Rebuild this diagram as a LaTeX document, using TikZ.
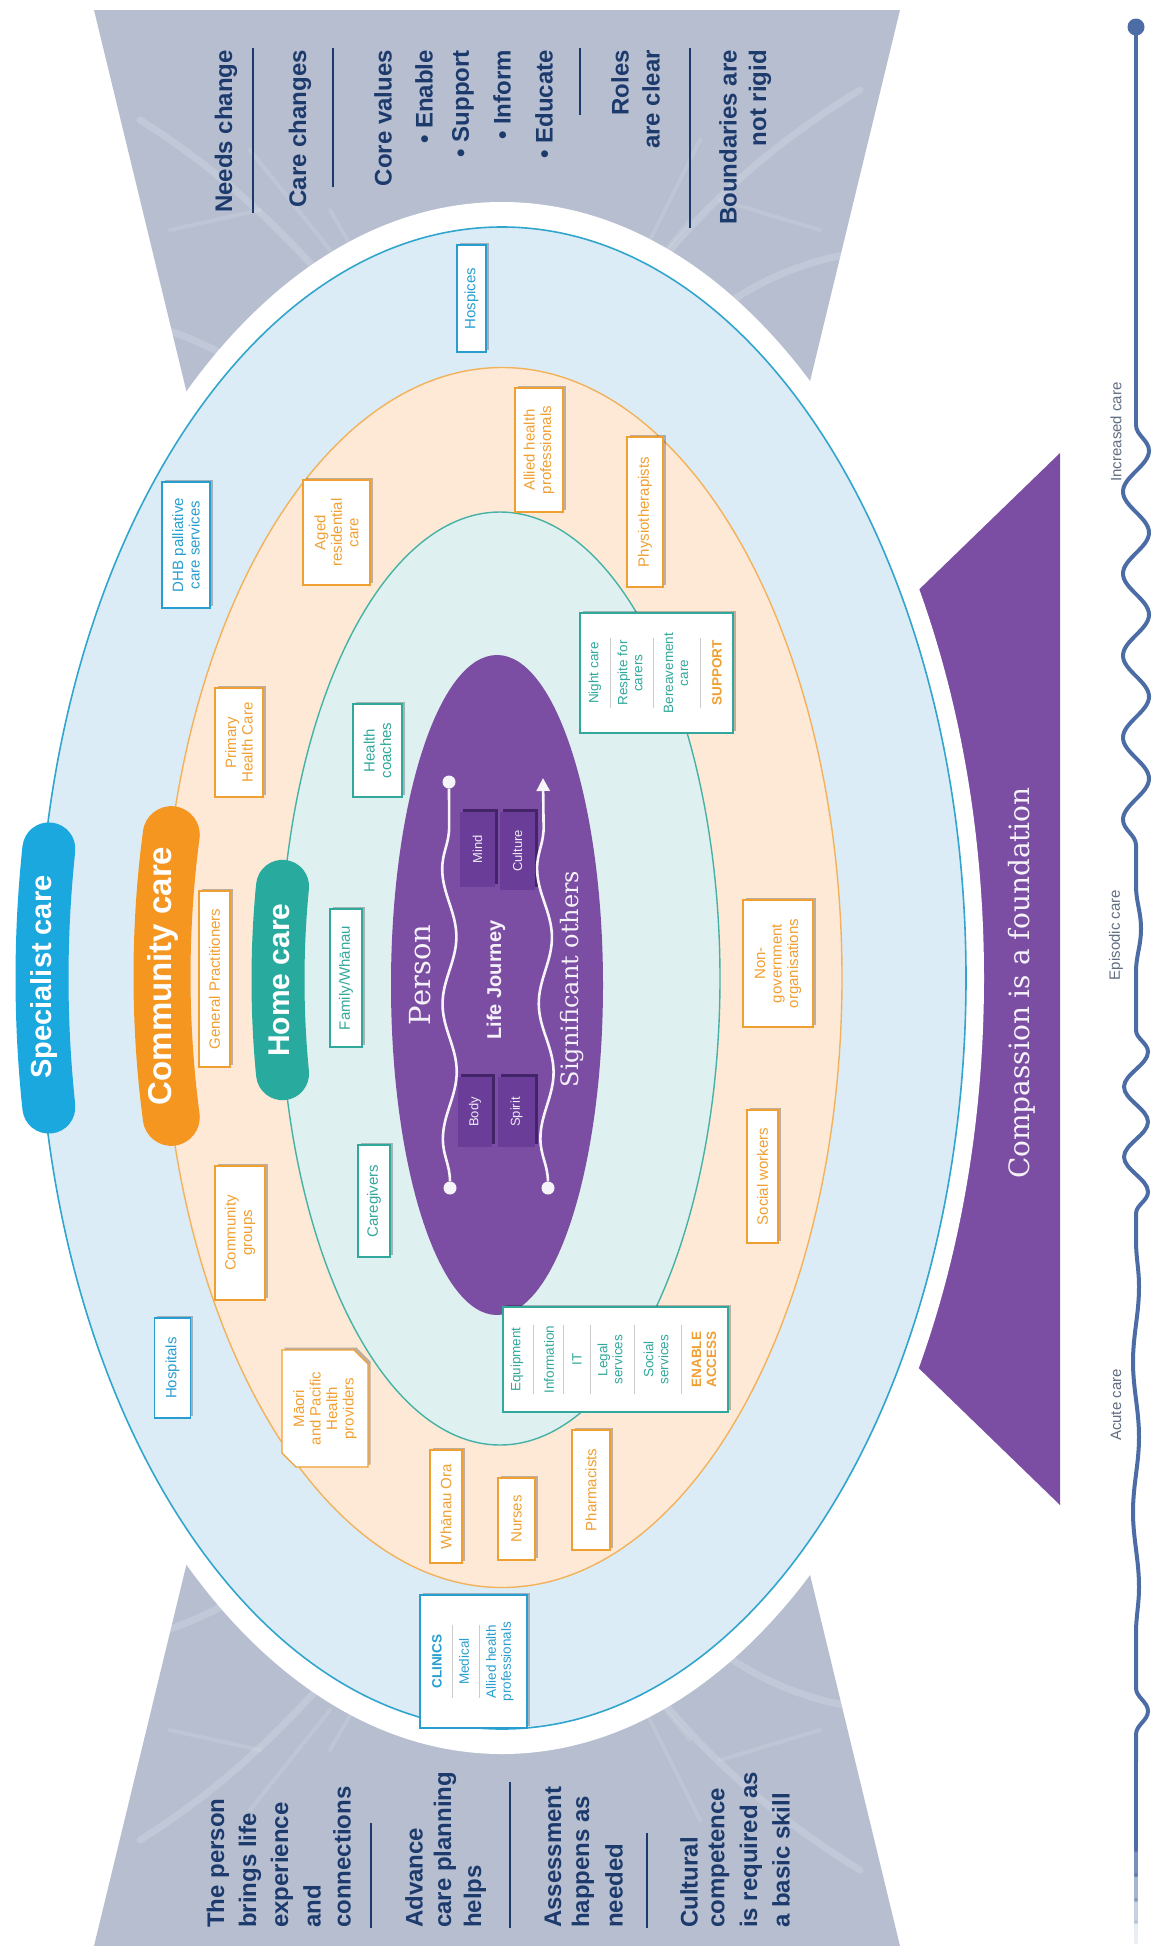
\documentclass[tikz,border=0pt]{standalone}
\usepackage{fontspec}
\setmainfont{Liberation Sans}
\newfontfamily\serifface{DejaVu Serif}
\usetikzlibrary{arrows.meta,decorations.pathmorphing}

\definecolor{panelgray}{RGB}{182,190,208}
\definecolor{navy}{RGB}{28,58,108}
\definecolor{specblue}{RGB}{27,168,222}
\definecolor{commorange}{RGB}{244,150,32}
\definecolor{hometeal}{RGB}{40,170,158}
\definecolor{outerfill}{RGB}{220,236,247}
\definecolor{outerline}{RGB}{50,165,205}
\definecolor{peachfill}{RGB}{253,233,213}
\definecolor{peachline}{RGB}{242,178,92}
\definecolor{innerfill}{RGB}{222,240,240}
\definecolor{innerline}{RGB}{70,178,166}
\definecolor{personpurple}{RGB}{123,78,163}
\definecolor{tabpurple}{RGB}{106,62,152}
\definecolor{tabshade}{RGB}{68,36,104}
\definecolor{bluetxt}{RGB}{40,158,208}
\definecolor{orangetxt}{RGB}{240,160,50}
\definecolor{tealtxt}{RGB}{50,168,156}
\definecolor{careblue}{RGB}{76,108,165}
\definecolor{caregray}{RGB}{95,110,130}

% white label box with a soft shadow on its upper-right side
% #1 name, #2 x, #3 y, #4 width, #5 height (as drawn), #6 colour, #7 text
\newcommand\ringbox[7]{%
  \fill[boxshadow] ({#2-#4/2+2.5},{#3-#5/2-2.5}) rectangle ({#2+#4/2+2.5},{#3+#5/2-2.5});
  \node[ringlabel, draw=#6, text=#6, minimum width=#5pt, minimum height=#4pt] (#1) at (#2,#3) {#7};}

% darker tab inside the person ellipse
\newcommand\purpletab[6]{%
  \fill[tabshade] ({#2-#4/2+3},{#3-#5/2-3}) rectangle ({#2+#4/2+3},{#3+#5/2-3});
  \node[tabtext, fill=tabpurple, minimum width=#5pt, minimum height=#4pt] (#1) at (#2,#3) {#6};}

\tikzset{
  ringlabel/.style={rotate=90, fill=white, line width=1.3pt,
    font=\fontsize{15}{16.5}\selectfont, align=center, inner sep=1pt},
  inlabel/.style={rotate=90, font=\fontsize{13.5}{15}\selectfont, align=center, inner sep=0pt},
  sepline/.style={draw=black!20, line width=0.9pt},
  paneltext/.style={rotate=90, text=navy, font=\fontsize{24}{30}\selectfont\bfseries, inner sep=0pt},
  panelrule/.style={draw=navy, line width=1.4pt},
  frond/.style={draw=white, opacity=0.16, line width=7pt, line cap=round},
  leaflet/.style={draw=white, opacity=0.11, line width=4pt, line cap=round},
  tabtext/.style={rotate=90, text=white!88!personpurple, font=\fontsize{13}{14}\selectfont, inner sep=0pt},
  lifeline/.style={draw=white!94!personpurple, line width=2.6pt, decorate,
    decoration={snake, amplitude=7pt, segment length=135pt}},
  lifedot/.style={circle, fill=white!94!personpurple, minimum size=13pt, inner sep=0pt},
  careline/.style={draw=careblue, line width=4pt, line cap=round},
  caretext/.style={rotate=90, text=caregray, font=\fontsize{15}{16}\selectfont, inner sep=0pt},
  boxshadow/.style={fill=black, opacity=0.25},
}

\begin{document}
\begin{tikzpicture}[x=1pt,y=-1pt]
\useasboundingbox (0,0) rectangle (1155,1946);
\fill[white] (0,0) rectangle (1155,1946);

% side panels with a faint frond texture
\fill[panelgray] (94,10) -- (900,10) -- (757,600) -- (237,600) -- cycle;
\fill[panelgray] (94,1946) -- (900,1946) -- (757,1356) -- (237,1356) -- cycle;
\begin{scope}
  \clip (94,10) -- (900,10) -- (757,600) -- (237,600) -- cycle;
  \draw[frond] (500,560) .. controls (420,380) and (300,220) .. (140,120);
  \draw[frond] (520,560) .. controls (560,360) and (680,200) .. (860,90);
  \draw[frond] (470,540) .. controls (330,420) and (220,330) .. (120,320);
  \draw[frond] (560,520) .. controls (650,330) and (760,260) .. (880,250);
  \draw[leaflet] (330,250) -- (250,150); \draw[leaflet] (400,330) -- (330,210);
  \draw[leaflet] (640,260) -- (700,140); \draw[leaflet] (600,330) -- (690,220);
  \draw[leaflet] (260,210) -- (170,230); \draw[leaflet] (720,200) -- (820,230);
\end{scope}
\begin{scope}
  \clip (94,1946) -- (900,1946) -- (757,1356) -- (237,1356) -- cycle;
  \draw[frond] (500,1400) .. controls (420,1580) and (300,1740) .. (140,1840);
  \draw[frond] (520,1400) .. controls (560,1600) and (680,1760) .. (860,1870);
  \draw[frond] (470,1420) .. controls (330,1540) and (220,1630) .. (120,1640);
  \draw[frond] (560,1440) .. controls (650,1630) and (760,1700) .. (880,1710);
  \draw[leaflet] (330,1710) -- (250,1810); \draw[leaflet] (400,1630) -- (330,1750);
  \draw[leaflet] (640,1700) -- (700,1820); \draw[leaflet] (600,1630) -- (690,1740);
  \draw[leaflet] (260,1750) -- (170,1730); \draw[leaflet] (720,1760) -- (820,1730);
\end{scope}

% foundation band
\fill[personpurple] (1060,453) -- (1060,1505) -- (900,1350) -- (900,608) -- cycle;

% nested care rings
\fill[white] (502,978) ellipse [x radius=482pt, y radius=776pt];
\filldraw[fill=outerfill, draw=outerline, line width=1.6pt] (502,978) ellipse [x radius=464pt, y radius=751pt];
\filldraw[fill=peachfill, draw=peachline, line width=1.4pt] (502,977.5) ellipse [x radius=340pt, y radius=610pt];
\filldraw[fill=innerfill, draw=innerline, line width=1.4pt] (500,978.5) ellipse [x radius=220pt, y radius=466.5pt];
\fill[personpurple] (497,985) ellipse [x radius=106pt, y radius=330pt];

% ring titles on curved bands
\draw[line width=53pt, line cap=round, draw=specblue]
  plot[domain=-9.9:9.9, samples=25, smooth] ({502-460*cos(\x)}, {978+751*sin(\x)});
\draw[line width=57pt, line cap=round, draw=commorange]
  plot[domain=-13.4:13.4, samples=25, smooth] ({502-340*cos(\x)}, {976+610*sin(\x)});
\draw[line width=53pt, line cap=round, draw=hometeal]
  plot[domain=-11.6:11.6, samples=25, smooth] ({500-222*cos(\x)}, {980+466*sin(\x)});
\node[rotate=90, text=white, inner sep=0pt, font=\fontsize{29}{30}\selectfont\bfseries] (specialist) at (44,977) {Specialist care};
\node[rotate=90, text=white, inner sep=0pt, font=\fontsize{33}{34}\selectfont\bfseries] (community) at (163,976) {Community care};
\node[rotate=90, text=white, inner sep=0pt, font=\fontsize{30}{31}\selectfont\bfseries] (home) at (279,980) {Home care};

% specialist ring
\ringbox{hospices}{471.5}{298.5}{29}{107}{bluetxt}{Hospices}
\ringbox{dhb}{186}{545}{48}{126}{bluetxt}{DHB palliative\\care services}
\ringbox{hospitals}{172.5}{1368}{36}{100}{bluetxt}{Hospitals}
\ringbox{clinics}{473.5}{1661.5}{107}{133}{bluetxt}{}
\node[inlabel, text=bluetxt, font=\fontsize{13.5}{15}\selectfont\bfseries] (clinicshead) at (437,1661.5) {CLINICS};
\draw[sepline] (452,1625) -- (452,1698);
\node[inlabel, text=bluetxt] (medical) at (464,1661.5) {Medical};
\draw[sepline] (479,1625) -- (479,1698);
\node[inlabel, text=bluetxt] (clinicallied) at (500,1661.5) {Allied health\\professionals};

% community ring
\ringbox{gp}{214.5}{979}{31}{176}{orangetxt}{General Practitioners}
\ringbox{phc}{239}{742.5}{48}{109}{orangetxt}{Primary\\Health Care}
\ringbox{aged}{336.5}{532.5}{67}{105}{orangetxt}{Aged\\residential\\care}
\ringbox{allied}{539}{450}{48}{124}{orangetxt}{Allied health\\professionals}
\ringbox{physio}{645}{512}{36}{150}{orangetxt}{Physiotherapists}
\ringbox{ngo}{778}{963.5}{70}{127}{orangetxt}{Non-\\government\\organisations}
\ringbox{socialwk}{762.5}{1176.5}{31}{133}{orangetxt}{Social workers}
\ringbox{pharm}{591}{1490}{38}{120}{orangetxt}{Pharmacists}
\ringbox{nurses}{516.5}{1519}{37}{82}{orangetxt}{Nurses}
\ringbox{whanauora}{446}{1506.5}{32}{113}{orangetxt}{Whānau Ora}
\ringbox{commgroups}{240}{1233}{50}{134}{orangetxt}{Community\\groups}
% Maori and Pacific providers: box with two clipped corners
\fill[boxshadow] (284.5,1347.5) -- (356.5,1347.5) -- (370.5,1361.5) -- (370.5,1464.5) -- (298.5,1464.5) -- (284.5,1450.5) -- cycle;
\filldraw[fill=white, draw=orangetxt, line width=1.3pt] (282,1350) -- (354,1350) -- (368,1364) -- (368,1467) -- (296,1467) -- (282,1453) -- cycle;
\node[ringlabel, fill=none, text=orangetxt] (maori) at (325,1408.5) {Māori\\and Pacific\\Health\\providers};

% home ring
\ringbox{coaches}{377.5}{750.5}{49}{93}{tealtxt}{Health\\coaches}
\ringbox{family}{346}{978}{32}{138}{tealtxt}{Family/Whānau}
\ringbox{caregivers}{374}{1201}{32}{112}{tealtxt}{Caregivers}

\ringbox{support}{656.5}{673}{153}{120}{tealtxt}{}
\node[inlabel, text=tealtxt] (nightcare) at (595,673) {Night care};
\draw[sepline] (610,638) -- (610,708);
\node[inlabel, text=tealtxt] (respite) at (630,673) {Respite for\\carers};
\draw[sepline] (653,638) -- (653,708);
\node[inlabel, text=tealtxt] (bereave) at (676,673) {Bereavement\\care};
\draw[sepline] (700,638) -- (700,708);
\node[inlabel, text=orangetxt, font=\fontsize{13.5}{15}\selectfont\bfseries] (supporthead) at (717,673) {SUPPORT};

\ringbox{access}{615.5}{1359.5}{225}{105}{tealtxt}{}
\node[inlabel, text=tealtxt] (equip) at (517,1359.5) {Equipment};
\draw[sepline] (533,1325) -- (533,1394);
\node[inlabel, text=tealtxt] (info) at (549,1359.5) {Information};
\draw[sepline] (563,1325) -- (563,1394);
\node[inlabel, text=tealtxt] (itnode) at (577,1359.5) {IT};
\draw[sepline] (590,1325) -- (590,1394);
\node[inlabel, text=tealtxt] (legal) at (610,1359.5) {Legal\\services};
\draw[sepline] (634,1325) -- (634,1394);
\node[inlabel, text=tealtxt] (socserv) at (656,1359.5) {Social\\services};
\draw[sepline] (681,1325) -- (681,1394);
\node[inlabel, text=orangetxt, font=\fontsize{13.5}{15}\selectfont\bfseries] (accesshead) at (704,1359.5) {ENABLE\\ACCESS};

% the person
\purpletab{mind}{477.5}{849.5}{35}{75}{Mind}
\purpletab{culture}{517.5}{851}{35}{78}{Culture}
\purpletab{body}{475}{1112}{34}{70}{Body}
\purpletab{spirit}{516.5}{1112}{37}{70}{Spirit}

\node[lifedot] (llb) at (450,1188) {};
\node[lifedot] (llt) at (449,782) {};
\node[lifedot] (rlb) at (548,1188) {};
\coordinate (rlt) at (543,778);
\draw[lifeline] (llb) -- (llt);
\draw[lifeline, -{Triangle[length=13pt, width=13pt]}] (rlb) -- (rlt);

\node[rotate=90, text=white!92!personpurple, inner sep=0pt, font=\serifface\fontsize{29}{30}\selectfont] (person) at (420,975) {Person};
\node[rotate=90, text=white!92!personpurple, inner sep=0pt, font=\fontsize{20}{22}\selectfont\bfseries] (journey) at (496,980) {Life Journey};
\node[rotate=90, text=white!92!personpurple, inner sep=0pt, font=\serifface\fontsize{24}{26}\selectfont] (others) at (572,979) {Significant others};

\node[rotate=90, text=white!92!personpurple, inner sep=0pt, font=\serifface\fontsize{28}{30}\selectfont] (compassion) at (1022,983) {Compassion is a foundation};

% principles, right-hand panel
\node[paneltext, anchor=east] (needs) at (226,50) {Needs change};
\draw[panelrule] (253,48) -- (253,213);
\node[paneltext, anchor=east] (carechg) at (300,50) {Care changes};
\draw[panelrule] (333,48) -- (333,187);
\node[paneltext, anchor=east] (core) at (383,50) {Core values};
\node[paneltext, anchor=east] (cvenable) at (424,50) {• Enable};
\node[paneltext, anchor=east] (cvsupport) at (463,50) {• Support};
\node[paneltext, anchor=east] (cvinform) at (502,50) {• Inform};
\node[paneltext, anchor=east] (cveducate) at (544,50) {• Educate};
\draw[panelrule] (580,48) -- (580,115);
\node[paneltext, anchor=east] (roles1) at (620,50) {Roles};
\node[paneltext, anchor=east] (roles2) at (651,50) {are clear};
\draw[panelrule] (690,48) -- (690,228);
\node[paneltext, anchor=east] (bound1) at (728,50) {Boundaries are};
\node[paneltext, anchor=east] (bound2) at (760,50) {not rigid};

% principles, left-hand panel
\node[paneltext, anchor=west] (tp1) at (218,1928) {The person};
\node[paneltext, anchor=west] (tp2) at (250,1928) {brings life};
\node[paneltext, anchor=west] (tp3) at (282,1928) {experience};
\node[paneltext, anchor=west] (tp4) at (312,1928) {and};
\node[paneltext, anchor=west] (tp5) at (342,1928) {connections};
\draw[panelrule] (371,1823) -- (371,1928);
\node[paneltext, anchor=west] (ad1) at (414,1928) {Advance};
\node[paneltext, anchor=west] (ad2) at (445,1928) {care planning};
\node[paneltext, anchor=west] (ad3) at (475,1928) {helps};
\draw[panelrule] (510,1782) -- (510,1928);
\node[paneltext, anchor=west] (as1) at (553,1928) {Assessment};
\node[paneltext, anchor=west] (as2) at (583,1928) {happens as};
\node[paneltext, anchor=west] (as3) at (614,1928) {needed};
\draw[panelrule] (647,1833) -- (647,1928);
\node[paneltext, anchor=west] (cu1) at (689,1928) {Cultural};
\node[paneltext, anchor=west] (cu2) at (719,1928) {competence};
\node[paneltext, anchor=west] (cu3) at (751,1928) {is required as};
\node[paneltext, anchor=west] (cu4) at (781,1928) {a basic skill};

% course of care
\node[circle, fill=careblue, minimum size=17pt, inner sep=0pt] (topdot) at (1136,27) {};
\coordinate (w1) at (1136,425);
\coordinate (w2) at (1136,885);
\coordinate (w3) at (1136,1030);
\coordinate (w4) at (1136,1240);
\coordinate (w5) at (1136,1688);
\coordinate (w6) at (1136,1762);
\coordinate (w7) at (1136,1850);
\coordinate (w8) at (1136,1875);
\coordinate (w9) at (1136,1900);
\coordinate (w10) at (1136,1922);
\coordinate (w11) at (1136,1942);
\draw[careline] (topdot) -- (w1);
\draw[careline, decorate, decoration={snake, amplitude=13pt, segment length=82pt}] (w1) -- (w2);
\draw[careline, decorate, decoration={snake, amplitude=5pt, segment length=140pt}] (w2) -- (w3);
\draw[careline, decorate, decoration={snake, amplitude=12pt, segment length=70pt}] (w3) -- (w4);
\draw[careline, decorate, decoration={snake, amplitude=3pt, segment length=150pt}] (w4) -- (w5);
\draw[careline, decorate, decoration={snake, amplitude=12pt, segment length=74pt}] (w5) -- (w6);
\draw[careline] (w6) -- (w7);
\draw[careline, opacity=0.75] (w7) -- (w8);
\draw[careline, opacity=0.5] (w8) -- (w9);
\draw[careline, opacity=0.3] (w9) -- (w10);
\draw[careline, opacity=0.12] (w10) -- (w11);
\node[caretext] (increased) at (1116,432) {Increased care};
\node[caretext] (episodic) at (1116,935) {Episodic care};
\node[caretext] (acute) at (1116,1405) {Acute care};
\end{tikzpicture}
\end{document}
